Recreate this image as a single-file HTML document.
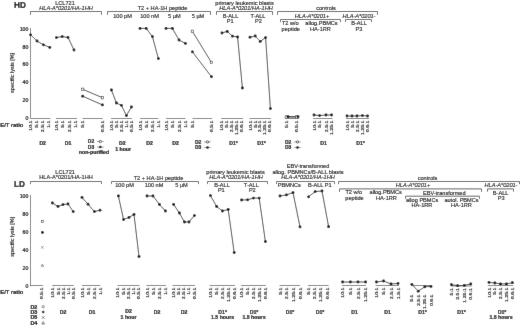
<!DOCTYPE html>
<html><head><meta charset="utf-8"><title>Specific lysis HD / LD</title>
<style>
html,body{margin:0;padding:0;background:#fff;}
body{width:520px;height:325px;overflow:hidden;}
svg{display:block;font-family:"Liberation Sans", sans-serif;}
#wrap{width:520px;height:325px;}
svg text{fill:#000;stroke:#000;stroke-width:0.12px;}
svg text[font-weight=bold]{stroke-width:0.2px;}
svg text.tk{fill:#000;stroke:#000;stroke-width:0.2px;}
</style></head><body>
<div id="wrap"><svg width="520" height="325" viewBox="0 0 520 325">
<defs><filter id="bl" x="0" y="0" width="100%" height="100%"><feConvolveMatrix order="3" kernelMatrix="0.0075 0.055 0.0075 0.055 0.75 0.055 0.0075 0.055 0.0075" preserveAlpha="true" edgeMode="duplicate"/></filter></defs>
<rect width="520" height="325" fill="#fff"/>
<g filter="url(#bl)">
<rect width="520" height="325" fill="#fff"/>
<text x="14.00" y="7.90" font-size="8.2" text-anchor="start" font-weight="bold" font-style="normal" >HD</text>
<line x1="30.50" y1="28.00" x2="30.50" y2="118.70" stroke="#808080" stroke-width="1.0"/>
<text x="28.30" y="120.05" font-size="5.2" text-anchor="end" font-weight="normal" font-style="normal" class="tk">0</text>
<text x="28.30" y="102.19" font-size="5.2" text-anchor="end" font-weight="normal" font-style="normal" class="tk">20</text>
<text x="28.30" y="84.33" font-size="5.2" text-anchor="end" font-weight="normal" font-style="normal" class="tk">40</text>
<text x="28.30" y="66.47" font-size="5.2" text-anchor="end" font-weight="normal" font-style="normal" class="tk">60</text>
<text x="28.30" y="48.61" font-size="5.2" text-anchor="end" font-weight="normal" font-style="normal" class="tk">80</text>
<text x="28.30" y="30.75" font-size="5.2" text-anchor="end" font-weight="normal" font-style="normal" class="tk">100</text>
<text x="13.80" y="72.90" font-size="5.5" text-anchor="middle" font-weight="normal" font-style="normal" transform="rotate(-90 13.80 72.90)">specific lysis [%]</text>
<text x="0.30" y="127.10" font-size="5.75" text-anchor="start" font-weight="bold" font-style="normal" >E/T ratio</text>
<text x="65.00" y="4.60" font-size="5.6" text-anchor="middle" font-weight="normal" font-style="normal" >LCL721</text>
<text x="66.00" y="9.60" font-size="5.6" text-anchor="middle" font-weight="normal" font-style="italic" >HLA-A*0201/HA-1HH</text>
<polyline points="30.50,14.90 30.50,11.50 101.50,11.50 101.50,14.90" fill="none" stroke="#606060" stroke-width="1.0"/>
<text x="162.50" y="10.00" font-size="5.6" text-anchor="middle" font-weight="normal" font-style="normal" >T2 + HA-1H peptide</text>
<polyline points="107.50,14.90 107.50,11.50 210.50,11.50 210.50,14.90" fill="none" stroke="#606060" stroke-width="1.0"/>
<text x="122.50" y="17.60" font-size="5.6" text-anchor="middle" font-weight="normal" font-style="normal" >100 pM</text>
<text x="149.50" y="17.60" font-size="5.6" text-anchor="middle" font-weight="normal" font-style="normal" >100 nM</text>
<text x="174.30" y="17.60" font-size="5.6" text-anchor="middle" font-weight="normal" font-style="normal" >5 µM</text>
<text x="198.00" y="17.60" font-size="5.6" text-anchor="middle" font-weight="normal" font-style="normal" >5 µM</text>
<text x="244.50" y="5.00" font-size="5.6" text-anchor="middle" font-weight="normal" font-style="normal" >primary leukemic blasts</text>
<text x="246.00" y="9.60" font-size="5.6" text-anchor="middle" font-weight="normal" font-style="italic" >HLA-A*0201/HA-1HH</text>
<polyline points="216.50,14.90 216.50,11.50 272.50,11.50 272.50,14.90" fill="none" stroke="#606060" stroke-width="1.0"/>
<text x="230.50" y="17.60" font-size="5.6" text-anchor="middle" font-weight="normal" font-style="normal" >B-ALL</text>
<text x="230.20" y="22.60" font-size="5.6" text-anchor="middle" font-weight="normal" font-style="normal" >P1</text>
<text x="258.00" y="17.60" font-size="5.6" text-anchor="middle" font-weight="normal" font-style="normal" >T-ALL</text>
<text x="258.50" y="22.60" font-size="5.6" text-anchor="middle" font-weight="normal" font-style="normal" >P2</text>
<text x="326.00" y="10.00" font-size="5.6" text-anchor="middle" font-weight="normal" font-style="normal" >controls</text>
<polyline points="277.50,14.90 277.50,11.50 377.50,11.50 377.50,14.90" fill="none" stroke="#606060" stroke-width="1.0"/>
<text x="312.00" y="17.60" font-size="5.6" text-anchor="middle" font-weight="normal" font-style="italic" >HLA-A*0201+</text>
<text x="359.00" y="17.60" font-size="5.6" text-anchor="middle" font-weight="normal" font-style="italic" >HLA-A*0201-</text>
<polyline points="280.50,22.10 280.50,19.50 340.50,19.50 340.50,22.10" fill="none" stroke="#606060" stroke-width="1.0"/>
<polyline points="345.50,22.10 345.50,19.50 371.50,19.50 371.50,22.10" fill="none" stroke="#606060" stroke-width="1.0"/>
<text x="290.30" y="25.00" font-size="5.6" text-anchor="middle" font-weight="normal" font-style="normal" >T2 w/o</text>
<text x="290.80" y="30.80" font-size="5.6" text-anchor="middle" font-weight="normal" font-style="normal" >peptide</text>
<text x="321.50" y="25.00" font-size="5.6" text-anchor="middle" font-weight="normal" font-style="normal" >allog.PBMCs</text>
<text x="320.50" y="30.80" font-size="5.6" text-anchor="middle" font-weight="normal" font-style="normal" >HA-1RR</text>
<text x="359.00" y="25.00" font-size="5.6" text-anchor="middle" font-weight="normal" font-style="normal" >B-ALL</text>
<text x="359.00" y="30.80" font-size="5.6" text-anchor="middle" font-weight="normal" font-style="normal" >P3</text>
<line x1="30.50" y1="118.50" x2="50.40" y2="118.50" stroke="#808080" stroke-width="1.0"/>
<text class="tk" x="0" y="0" font-size="5.2" text-anchor="end" transform="translate(31.75 120.60) rotate(-90) scale(1 0.82)">10:1</text>
<text class="tk" x="0" y="0" font-size="5.2" text-anchor="end" transform="translate(37.95 120.60) rotate(-90) scale(1 0.82)">5:1</text>
<text class="tk" x="0" y="0" font-size="5.2" text-anchor="end" transform="translate(44.15 120.60) rotate(-90) scale(1 0.82)">2.5:1</text>
<text class="tk" x="0" y="0" font-size="5.2" text-anchor="end" transform="translate(49.95 120.60) rotate(-90) scale(1 0.82)">1:1</text>
<polyline points="30.60,34.80 37.00,41.00 43.40,44.80 49.80,47.40" fill="none" stroke="#111" stroke-width="0.75"/>
<circle cx="30.60" cy="34.80" r="1.4" fill="#000"/>
<circle cx="37.00" cy="41.00" r="1.4" fill="#000"/>
<circle cx="43.40" cy="44.80" r="1.4" fill="#000"/>
<circle cx="49.80" cy="47.40" r="1.4" fill="#000"/>
<line x1="56.00" y1="118.50" x2="77.00" y2="118.50" stroke="#808080" stroke-width="1.0"/>
<text class="tk" x="0" y="0" font-size="5.2" text-anchor="end" transform="translate(57.65 120.60) rotate(-90) scale(1 0.82)">10:1</text>
<text class="tk" x="0" y="0" font-size="5.2" text-anchor="end" transform="translate(64.15 120.60) rotate(-90) scale(1 0.82)">5:1</text>
<text class="tk" x="0" y="0" font-size="5.2" text-anchor="end" transform="translate(70.55 120.60) rotate(-90) scale(1 0.82)">2.5:1</text>
<text class="tk" x="0" y="0" font-size="5.2" text-anchor="end" transform="translate(76.75 120.60) rotate(-90) scale(1 0.82)">1:1</text>
<polyline points="56.40,37.60 62.20,36.60 68.00,37.40 74.00,50.00" fill="none" stroke="#111" stroke-width="0.75"/>
<circle cx="56.40" cy="37.60" r="1.4" fill="#000"/>
<circle cx="62.20" cy="36.60" r="1.4" fill="#000"/>
<circle cx="68.00" cy="37.40" r="1.4" fill="#000"/>
<circle cx="74.00" cy="50.00" r="1.4" fill="#000"/>
<line x1="82.50" y1="118.50" x2="102.80" y2="118.50" stroke="#808080" stroke-width="1.0"/>
<text class="tk" x="0" y="0" font-size="5.2" text-anchor="end" transform="translate(84.25 120.60) rotate(-90) scale(1 0.82)">5:1</text>
<text class="tk" x="0" y="0" font-size="5.2" text-anchor="end" transform="translate(103.95 120.60) rotate(-90) scale(1 0.82)">0.5:1</text>
<polyline points="82.70,89.30 102.40,97.70" fill="none" stroke="#111" stroke-width="0.75"/>
<rect x="81.50" y="88.10" width="2.4" height="2.4" fill="#fff" stroke="#222" stroke-width="0.55"/>
<rect x="101.20" y="96.50" width="2.4" height="2.4" fill="#fff" stroke="#222" stroke-width="0.55"/>
<polyline points="82.70,96.20 102.40,104.90" fill="none" stroke="#111" stroke-width="0.75"/>
<circle cx="82.70" cy="96.20" r="1.4" fill="#000"/>
<circle cx="102.40" cy="104.90" r="1.4" fill="#000"/>
<line x1="111.00" y1="118.50" x2="132.00" y2="118.50" stroke="#808080" stroke-width="1.0"/>
<text class="tk" x="0" y="0" font-size="5.2" text-anchor="end" transform="translate(112.95 120.60) rotate(-90) scale(1 0.82)">10:1</text>
<text class="tk" x="0" y="0" font-size="5.2" text-anchor="end" transform="translate(117.95 120.60) rotate(-90) scale(1 0.82)">5:1</text>
<text class="tk" x="0" y="0" font-size="5.2" text-anchor="end" transform="translate(122.95 120.60) rotate(-90) scale(1 0.82)">2.5:1</text>
<text class="tk" x="0" y="0" font-size="5.2" text-anchor="end" transform="translate(127.95 120.60) rotate(-90) scale(1 0.82)">1:1</text>
<text class="tk" x="0" y="0" font-size="5.2" text-anchor="end" transform="translate(132.95 120.60) rotate(-90) scale(1 0.82)">0.5:1</text>
<polyline points="111.40,90.00 116.40,103.00 121.40,105.30 126.40,115.60 131.40,107.00" fill="none" stroke="#111" stroke-width="0.75"/>
<circle cx="111.40" cy="90.00" r="1.4" fill="#000"/>
<circle cx="116.40" cy="103.00" r="1.4" fill="#000"/>
<circle cx="121.40" cy="105.30" r="1.4" fill="#000"/>
<circle cx="126.40" cy="115.60" r="1.4" fill="#000"/>
<circle cx="131.40" cy="107.00" r="1.4" fill="#000"/>
<line x1="140.00" y1="118.50" x2="158.40" y2="118.50" stroke="#808080" stroke-width="1.0"/>
<text class="tk" x="0" y="0" font-size="5.2" text-anchor="end" transform="translate(141.55 120.60) rotate(-90) scale(1 0.82)">10:1</text>
<text class="tk" x="0" y="0" font-size="5.2" text-anchor="end" transform="translate(147.75 120.60) rotate(-90) scale(1 0.82)">5:1</text>
<text class="tk" x="0" y="0" font-size="5.2" text-anchor="end" transform="translate(153.95 120.60) rotate(-90) scale(1 0.82)">2.5:1</text>
<text class="tk" x="0" y="0" font-size="5.2" text-anchor="end" transform="translate(159.95 120.60) rotate(-90) scale(1 0.82)">1:1</text>
<polyline points="140.00,28.40 146.20,28.40 152.40,36.60 158.40,58.60" fill="none" stroke="#111" stroke-width="0.75"/>
<circle cx="140.00" cy="28.40" r="1.4" fill="#000"/>
<circle cx="146.20" cy="28.40" r="1.4" fill="#000"/>
<circle cx="152.40" cy="36.60" r="1.4" fill="#000"/>
<circle cx="158.40" cy="58.60" r="1.4" fill="#000"/>
<line x1="166.00" y1="118.50" x2="185.40" y2="118.50" stroke="#808080" stroke-width="1.0"/>
<text class="tk" x="0" y="0" font-size="5.2" text-anchor="end" transform="translate(167.55 120.60) rotate(-90) scale(1 0.82)">10:1</text>
<text class="tk" x="0" y="0" font-size="5.2" text-anchor="end" transform="translate(173.95 120.60) rotate(-90) scale(1 0.82)">5:1</text>
<text class="tk" x="0" y="0" font-size="5.2" text-anchor="end" transform="translate(180.55 120.60) rotate(-90) scale(1 0.82)">2.5:1</text>
<text class="tk" x="0" y="0" font-size="5.2" text-anchor="end" transform="translate(186.95 120.60) rotate(-90) scale(1 0.82)">1:1</text>
<polyline points="166.00,28.40 172.40,28.40 179.00,40.00 185.40,43.40" fill="none" stroke="#111" stroke-width="0.75"/>
<circle cx="166.00" cy="28.40" r="1.4" fill="#000"/>
<circle cx="172.40" cy="28.40" r="1.4" fill="#000"/>
<circle cx="179.00" cy="40.00" r="1.4" fill="#000"/>
<circle cx="185.40" cy="43.40" r="1.4" fill="#000"/>
<line x1="192.50" y1="118.50" x2="212.20" y2="118.50" stroke="#808080" stroke-width="1.0"/>
<text class="tk" x="0" y="0" font-size="5.2" text-anchor="end" transform="translate(194.35 120.60) rotate(-90) scale(1 0.82)">5:1</text>
<text class="tk" x="0" y="0" font-size="5.2" text-anchor="end" transform="translate(213.15 120.60) rotate(-90) scale(1 0.82)">0.5:1</text>
<polyline points="192.40,31.30 211.40,62.40" fill="none" stroke="#111" stroke-width="0.75"/>
<rect x="191.20" y="30.10" width="2.4" height="2.4" fill="#fff" stroke="#222" stroke-width="0.55"/>
<rect x="210.20" y="61.20" width="2.4" height="2.4" fill="#fff" stroke="#222" stroke-width="0.55"/>
<polyline points="192.40,51.80 211.40,76.70" fill="none" stroke="#111" stroke-width="0.75"/>
<circle cx="192.40" cy="51.80" r="1.4" fill="#000"/>
<circle cx="211.40" cy="76.70" r="1.4" fill="#000"/>
<line x1="221.20" y1="118.50" x2="243.00" y2="118.50" stroke="#808080" stroke-width="1.0"/>
<text class="tk" x="0" y="0" font-size="5.2" text-anchor="end" transform="translate(223.45 120.60) rotate(-90) scale(1 0.82)">10:1</text>
<text class="tk" x="0" y="0" font-size="5.2" text-anchor="end" transform="translate(228.25 120.60) rotate(-90) scale(1 0.82)">5:1</text>
<text class="tk" x="0" y="0" font-size="5.2" text-anchor="end" transform="translate(233.05 120.60) rotate(-90) scale(1 0.82)">2.5:1</text>
<text class="tk" x="0" y="0" font-size="5.2" text-anchor="end" transform="translate(237.95 120.60) rotate(-90) scale(1 0.82)">1.25:1</text>
<text class="tk" x="0" y="0" font-size="5.2" text-anchor="end" transform="translate(242.85 120.60) rotate(-90) scale(1 0.82)">0.6:1</text>
<polyline points="222.00,33.00 227.20,31.40 232.40,36.20 237.60,37.00 242.40,88.00" fill="none" stroke="#111" stroke-width="0.75"/>
<circle cx="222.00" cy="33.00" r="1.4" fill="#000"/>
<circle cx="227.20" cy="31.40" r="1.4" fill="#000"/>
<circle cx="232.40" cy="36.20" r="1.4" fill="#000"/>
<circle cx="237.60" cy="37.00" r="1.4" fill="#000"/>
<circle cx="242.40" cy="88.00" r="1.4" fill="#000"/>
<line x1="249.50" y1="118.50" x2="271.00" y2="118.50" stroke="#808080" stroke-width="1.0"/>
<text class="tk" x="0" y="0" font-size="5.2" text-anchor="end" transform="translate(251.75 120.60) rotate(-90) scale(1 0.82)">10:1</text>
<text class="tk" x="0" y="0" font-size="5.2" text-anchor="end" transform="translate(256.65 120.60) rotate(-90) scale(1 0.82)">5:1</text>
<text class="tk" x="0" y="0" font-size="5.2" text-anchor="end" transform="translate(261.45 120.60) rotate(-90) scale(1 0.82)">2.5:1</text>
<text class="tk" x="0" y="0" font-size="5.2" text-anchor="end" transform="translate(266.25 120.60) rotate(-90) scale(1 0.82)">1.25:1</text>
<text class="tk" x="0" y="0" font-size="5.2" text-anchor="end" transform="translate(271.15 120.60) rotate(-90) scale(1 0.82)">0.6:1</text>
<polyline points="250.00,37.20 255.20,36.00 260.20,41.40 265.60,37.60 270.40,108.60" fill="none" stroke="#111" stroke-width="0.75"/>
<circle cx="250.00" cy="37.20" r="1.4" fill="#000"/>
<circle cx="255.20" cy="36.00" r="1.4" fill="#000"/>
<circle cx="260.20" cy="41.40" r="1.4" fill="#000"/>
<circle cx="265.60" cy="37.60" r="1.4" fill="#000"/>
<circle cx="270.40" cy="108.60" r="1.4" fill="#000"/>
<line x1="285.20" y1="118.50" x2="299.20" y2="118.50" stroke="#808080" stroke-width="1.0"/>
<text class="tk" x="0" y="0" font-size="5.2" text-anchor="end" transform="translate(288.05 120.70) rotate(-90) scale(1 0.82)">5:1</text>
<text class="tk" x="0" y="0" font-size="5.2" text-anchor="end" transform="translate(298.35 120.70) rotate(-90) scale(1 0.82)">0.5:1</text>
<polyline points="286.30,117.00 296.50,117.00" fill="none" stroke="#111" stroke-width="0.75"/>
<polyline points="288.00,116.60 298.00,116.60" fill="none" stroke="#111" stroke-width="0.75"/>
<rect x="285.10" y="115.80" width="2.4" height="2.4" fill="#fff" stroke="#222" stroke-width="0.55"/>
<rect x="295.30" y="115.80" width="2.4" height="2.4" fill="#fff" stroke="#222" stroke-width="0.55"/>
<circle cx="288.00" cy="116.60" r="1.4" fill="#000"/>
<circle cx="298.00" cy="116.60" r="1.4" fill="#000"/>
<line x1="313.00" y1="118.50" x2="332.40" y2="118.50" stroke="#808080" stroke-width="1.0"/>
<text class="tk" x="0" y="0" font-size="5.2" text-anchor="end" transform="translate(315.55 120.60) rotate(-90) scale(1 0.82)">10:1</text>
<text class="tk" x="0" y="0" font-size="5.2" text-anchor="end" transform="translate(321.15 120.60) rotate(-90) scale(1 0.82)">5:1</text>
<text class="tk" x="0" y="0" font-size="5.2" text-anchor="end" transform="translate(327.55 120.60) rotate(-90) scale(1 0.82)">2.5:1</text>
<text class="tk" x="0" y="0" font-size="5.2" text-anchor="end" transform="translate(333.15 120.60) rotate(-90) scale(1 0.82)">1.25:1</text>
<polyline points="314.00,115.00 319.60,115.60 326.00,115.00 331.60,115.00" fill="none" stroke="#111" stroke-width="0.75"/>
<circle cx="314.00" cy="115.00" r="1.4" fill="#000"/>
<circle cx="319.60" cy="115.60" r="1.4" fill="#000"/>
<circle cx="326.00" cy="115.00" r="1.4" fill="#000"/>
<circle cx="331.60" cy="115.00" r="1.4" fill="#000"/>
<line x1="346.00" y1="118.50" x2="369.00" y2="118.50" stroke="#808080" stroke-width="1.0"/>
<text class="tk" x="0" y="0" font-size="5.2" text-anchor="end" transform="translate(348.55 120.60) rotate(-90) scale(1 0.82)">10:1</text>
<text class="tk" x="0" y="0" font-size="5.2" text-anchor="end" transform="translate(353.55 120.60) rotate(-90) scale(1 0.82)">5:1</text>
<text class="tk" x="0" y="0" font-size="5.2" text-anchor="end" transform="translate(358.55 120.60) rotate(-90) scale(1 0.82)">2.5:1</text>
<text class="tk" x="0" y="0" font-size="5.2" text-anchor="end" transform="translate(363.95 120.60) rotate(-90) scale(1 0.82)">1.25:1</text>
<text class="tk" x="0" y="0" font-size="5.2" text-anchor="end" transform="translate(369.15 120.60) rotate(-90) scale(1 0.82)">0.6:1</text>
<polyline points="347.00,116.00 352.00,116.00 357.00,116.00 362.40,115.60 367.60,116.00" fill="none" stroke="#111" stroke-width="0.75"/>
<circle cx="347.00" cy="116.00" r="1.4" fill="#000"/>
<circle cx="352.00" cy="116.00" r="1.4" fill="#000"/>
<circle cx="357.00" cy="116.00" r="1.4" fill="#000"/>
<circle cx="362.40" cy="115.60" r="1.4" fill="#000"/>
<circle cx="367.60" cy="116.00" r="1.4" fill="#000"/>
<text x="42.70" y="145.10" font-size="5.2" text-anchor="middle" font-weight="bold" font-style="normal" >D2</text>
<text x="68.00" y="145.10" font-size="5.2" text-anchor="middle" font-weight="bold" font-style="normal" >D1</text>
<text x="87.80" y="143.20" font-size="5.0" text-anchor="start" font-weight="bold" font-style="normal" >D2</text>
<text x="87.80" y="148.80" font-size="5.0" text-anchor="start" font-weight="bold" font-style="normal" >D3</text>
<line x1="97.00" y1="141.50" x2="103.60" y2="141.50" stroke="#333" stroke-width="0.5"/>
<circle cx="100.30" cy="141.50" r="1.15" fill="#fff" stroke="#111" stroke-width="0.7"/>
<line x1="97.00" y1="147.10" x2="103.60" y2="147.10" stroke="#333" stroke-width="0.5"/>
<circle cx="100.30" cy="147.10" r="1.25" fill="#000"/>
<text x="94.00" y="153.60" font-size="5.2" text-anchor="middle" font-weight="bold" font-style="normal" >non-purified</text>
<text x="122.40" y="145.10" font-size="5.2" text-anchor="middle" font-weight="bold" font-style="normal" >D2</text>
<text x="123.10" y="151.00" font-size="5.2" text-anchor="middle" font-weight="bold" font-style="normal" >1 hour</text>
<text x="149.60" y="145.10" font-size="5.2" text-anchor="middle" font-weight="bold" font-style="normal" >D2</text>
<text x="175.50" y="145.10" font-size="5.2" text-anchor="middle" font-weight="bold" font-style="normal" >D2</text>
<text x="195.00" y="143.60" font-size="5.0" text-anchor="start" font-weight="bold" font-style="normal" >D2</text>
<text x="195.00" y="149.20" font-size="5.0" text-anchor="start" font-weight="bold" font-style="normal" >D3</text>
<line x1="204.20" y1="141.90" x2="210.80" y2="141.90" stroke="#333" stroke-width="0.5"/>
<circle cx="207.50" cy="141.90" r="1.15" fill="#fff" stroke="#111" stroke-width="0.7"/>
<line x1="204.20" y1="147.50" x2="210.80" y2="147.50" stroke="#333" stroke-width="0.5"/>
<circle cx="207.50" cy="147.50" r="1.25" fill="#000"/>
<text x="233.50" y="145.10" font-size="5.2" text-anchor="middle" font-weight="bold" font-style="normal" >D1*</text>
<text x="261.50" y="145.10" font-size="5.2" text-anchor="middle" font-weight="bold" font-style="normal" >D1*</text>
<text x="285.00" y="143.60" font-size="5.0" text-anchor="start" font-weight="bold" font-style="normal" >D2</text>
<text x="285.00" y="149.20" font-size="5.0" text-anchor="start" font-weight="bold" font-style="normal" >D3</text>
<line x1="294.20" y1="141.90" x2="300.80" y2="141.90" stroke="#333" stroke-width="0.5"/>
<circle cx="297.50" cy="141.90" r="1.15" fill="#fff" stroke="#111" stroke-width="0.7"/>
<line x1="294.20" y1="147.50" x2="300.80" y2="147.50" stroke="#333" stroke-width="0.5"/>
<circle cx="297.50" cy="147.50" r="1.25" fill="#000"/>
<text x="323.50" y="145.10" font-size="5.2" text-anchor="middle" font-weight="bold" font-style="normal" >D1</text>
<text x="360.50" y="145.10" font-size="5.2" text-anchor="middle" font-weight="bold" font-style="normal" >D1*</text>
<text x="14.00" y="187.30" font-size="8.2" text-anchor="start" font-weight="bold" font-style="normal" >LD</text>
<line x1="30.50" y1="195.00" x2="30.50" y2="286.40" stroke="#808080" stroke-width="1.0"/>
<text x="28.30" y="287.75" font-size="5.2" text-anchor="end" font-weight="normal" font-style="normal" class="tk">0</text>
<text x="28.30" y="269.75" font-size="5.2" text-anchor="end" font-weight="normal" font-style="normal" class="tk">20</text>
<text x="28.30" y="251.75" font-size="5.2" text-anchor="end" font-weight="normal" font-style="normal" class="tk">40</text>
<text x="28.30" y="233.75" font-size="5.2" text-anchor="end" font-weight="normal" font-style="normal" class="tk">60</text>
<text x="28.30" y="215.75" font-size="5.2" text-anchor="end" font-weight="normal" font-style="normal" class="tk">80</text>
<text x="28.30" y="197.75" font-size="5.2" text-anchor="end" font-weight="normal" font-style="normal" class="tk">100</text>
<text x="13.80" y="236.80" font-size="5.5" text-anchor="middle" font-weight="normal" font-style="normal" transform="rotate(-90 13.80 236.80)">specific lysis [%]</text>
<text x="0.30" y="293.90" font-size="5.75" text-anchor="start" font-weight="bold" font-style="normal" >E/T ratio</text>
<text x="65.10" y="173.80" font-size="5.6" text-anchor="middle" font-weight="normal" font-style="normal" >LCL721</text>
<text x="66.00" y="179.40" font-size="5.6" text-anchor="middle" font-weight="normal" font-style="normal" >HLA-A*0201/HA-1HH</text>
<polyline points="30.50,184.10 30.50,181.50 101.50,181.50 101.50,184.10" fill="none" stroke="#606060" stroke-width="1.0"/>
<text x="158.50" y="179.60" font-size="5.6" text-anchor="middle" font-weight="normal" font-style="normal" >T2 + HA-1H peptide</text>
<polyline points="111.50,184.10 111.50,181.50 198.50,181.50 198.50,184.10" fill="none" stroke="#606060" stroke-width="1.0"/>
<text x="124.50" y="187.00" font-size="5.6" text-anchor="middle" font-weight="normal" font-style="normal" >100 pM</text>
<text x="154.00" y="187.00" font-size="5.6" text-anchor="middle" font-weight="normal" font-style="normal" >100 nM</text>
<text x="181.50" y="187.00" font-size="5.6" text-anchor="middle" font-weight="normal" font-style="normal" >5 µM</text>
<text x="235.50" y="173.60" font-size="5.6" text-anchor="middle" font-weight="normal" font-style="normal" >primary leukemic blasts</text>
<text x="236.00" y="179.00" font-size="5.6" text-anchor="middle" font-weight="normal" font-style="italic" >HLA-A*0201/HA-1HH</text>
<polyline points="207.50,184.10 207.50,181.50 267.50,181.50 267.50,184.10" fill="none" stroke="#606060" stroke-width="1.0"/>
<text x="222.00" y="187.00" font-size="5.6" text-anchor="middle" font-weight="normal" font-style="normal" >B-ALL</text>
<text x="221.30" y="192.40" font-size="5.6" text-anchor="middle" font-weight="normal" font-style="normal" >P1</text>
<text x="251.30" y="187.00" font-size="5.6" text-anchor="middle" font-weight="normal" font-style="normal" >T-ALL</text>
<text x="252.30" y="192.40" font-size="5.6" text-anchor="middle" font-weight="normal" font-style="normal" >P2</text>
<text x="308.00" y="168.00" font-size="5.6" text-anchor="middle" font-weight="normal" font-style="normal" >EBV-transformed</text>
<text x="308.00" y="173.60" font-size="5.6" text-anchor="middle" font-weight="normal" font-style="normal" >allog. PBMNCs/B-ALL blasts</text>
<text x="308.00" y="178.80" font-size="5.6" text-anchor="middle" font-weight="normal" font-style="italic" >HLA-A*0201/HA-1HH</text>
<polyline points="276.50,184.10 276.50,181.50 334.50,181.50 334.50,184.10" fill="none" stroke="#606060" stroke-width="1.0"/>
<text x="289.30" y="186.60" font-size="5.6" text-anchor="middle" font-weight="normal" font-style="normal" >PBMNCs</text>
<text x="319.80" y="186.60" font-size="5.6" text-anchor="middle" font-weight="normal" font-style="normal" >B-ALL P1</text>
<text x="427.50" y="179.80" font-size="5.6" text-anchor="middle" font-weight="normal" font-style="normal" >controls</text>
<polyline points="338.50,184.10 338.50,181.50 519.50,181.50 519.50,184.10" fill="none" stroke="#606060" stroke-width="1.0"/>
<text x="413.00" y="186.80" font-size="5.6" text-anchor="middle" font-weight="normal" font-style="italic" >HLA-A*0201+</text>
<polyline points="339.50,191.90 339.50,188.90 481.50,188.90 481.50,191.90" fill="none" stroke="#606060" stroke-width="1.0"/>
<text x="501.00" y="187.40" font-size="5.6" text-anchor="middle" font-weight="normal" font-style="italic" >HLA-A*0201-</text>
<polyline points="487.50,191.70 487.50,188.90 513.50,188.90 513.50,191.70" fill="none" stroke="#606060" stroke-width="1.0"/>
<text x="353.80" y="193.80" font-size="5.6" text-anchor="middle" font-weight="normal" font-style="normal" >T2 w/o</text>
<text x="354.50" y="199.90" font-size="5.6" text-anchor="middle" font-weight="normal" font-style="normal" >peptide</text>
<text x="385.70" y="193.80" font-size="5.6" text-anchor="middle" font-weight="normal" font-style="normal" >allog.PBMCs</text>
<text x="386.50" y="199.90" font-size="5.6" text-anchor="middle" font-weight="normal" font-style="normal" >HA-1RR</text>
<text x="444.30" y="194.50" font-size="5.6" text-anchor="middle" font-weight="normal" font-style="normal" >EBV-transformed</text>
<polyline points="405.50,198.80 405.50,196.20 479.50,196.20 479.50,198.80" fill="none" stroke="#606060" stroke-width="1.0"/>
<text x="422.20" y="202.40" font-size="5.6" text-anchor="middle" font-weight="normal" font-style="normal" >allog PBMCs</text>
<text x="422.00" y="207.20" font-size="5.6" text-anchor="middle" font-weight="normal" font-style="normal" >HA-1RR</text>
<text x="461.50" y="202.40" font-size="5.6" text-anchor="middle" font-weight="normal" font-style="normal" >autol. PBMCs</text>
<text x="461.50" y="207.20" font-size="5.6" text-anchor="middle" font-weight="normal" font-style="normal" >HA-1RR</text>
<text x="500.60" y="194.60" font-size="5.6" text-anchor="middle" font-weight="normal" font-style="normal" >B-ALL</text>
<text x="501.20" y="199.80" font-size="5.6" text-anchor="middle" font-weight="normal" font-style="normal" >P3</text>
<line x1="30.50" y1="285.50" x2="43.00" y2="285.50" stroke="#808080" stroke-width="1.0"/>
<text class="tk" x="0" y="0" font-size="5.2" text-anchor="end" transform="translate(43.35 287.70) rotate(-90) scale(1 0.82)">0.5:1</text>
<rect x="41.30" y="220.30" width="2.2" height="2.2" fill="#fff" stroke="#222" stroke-width="0.55"/>
<circle cx="42.40" cy="232.40" r="1.4" fill="#000"/>
<path d="M41.2,246.2 L43.6,248.6 M43.6,246.2 L41.2,248.6" stroke="#333" stroke-width="0.5"/>
<path d="M42.4,264.0 L43.7,266.3 L41.1,266.3 Z" fill="#fff" stroke="#333" stroke-width="0.5"/>
<line x1="52.20" y1="285.50" x2="73.80" y2="285.50" stroke="#808080" stroke-width="1.0"/>
<text class="tk" x="0" y="0" font-size="5.2" text-anchor="end" transform="translate(53.95 287.60) rotate(-90) scale(1 0.82)">10:1</text>
<text class="tk" x="0" y="0" font-size="5.2" text-anchor="end" transform="translate(59.55 287.60) rotate(-90) scale(1 0.82)">5:1</text>
<text class="tk" x="0" y="0" font-size="5.2" text-anchor="end" transform="translate(64.55 287.60) rotate(-90) scale(1 0.82)">2.5:1</text>
<text class="tk" x="0" y="0" font-size="5.2" text-anchor="end" transform="translate(69.55 287.60) rotate(-90) scale(1 0.82)">1:1</text>
<text class="tk" x="0" y="0" font-size="5.2" text-anchor="end" transform="translate(74.75 287.60) rotate(-90) scale(1 0.82)">0.5:1</text>
<polyline points="52.40,203.00 58.00,206.40 63.00,204.60 68.00,204.00 73.20,211.60" fill="none" stroke="#111" stroke-width="0.75"/>
<circle cx="52.40" cy="203.00" r="1.4" fill="#000"/>
<circle cx="58.00" cy="206.40" r="1.4" fill="#000"/>
<circle cx="63.00" cy="204.60" r="1.4" fill="#000"/>
<circle cx="68.00" cy="204.00" r="1.4" fill="#000"/>
<circle cx="73.20" cy="211.60" r="1.4" fill="#000"/>
<line x1="82.00" y1="285.50" x2="100.30" y2="285.50" stroke="#808080" stroke-width="1.0"/>
<text class="tk" x="0" y="0" font-size="5.2" text-anchor="end" transform="translate(83.55 287.60) rotate(-90) scale(1 0.82)">10:1</text>
<text class="tk" x="0" y="0" font-size="5.2" text-anchor="end" transform="translate(89.55 287.60) rotate(-90) scale(1 0.82)">5:1</text>
<text class="tk" x="0" y="0" font-size="5.2" text-anchor="end" transform="translate(95.95 287.60) rotate(-90) scale(1 0.82)">2.5:1</text>
<text class="tk" x="0" y="0" font-size="5.2" text-anchor="end" transform="translate(101.55 287.60) rotate(-90) scale(1 0.82)">1:1</text>
<polyline points="82.00,197.40 88.00,204.20 94.40,211.60 100.00,210.20" fill="none" stroke="#111" stroke-width="0.75"/>
<circle cx="82.00" cy="197.40" r="1.4" fill="#000"/>
<circle cx="88.00" cy="204.20" r="1.4" fill="#000"/>
<circle cx="94.40" cy="211.60" r="1.4" fill="#000"/>
<circle cx="100.00" cy="210.20" r="1.4" fill="#000"/>
<line x1="117.60" y1="285.50" x2="139.60" y2="285.50" stroke="#808080" stroke-width="1.0"/>
<text class="tk" x="0" y="0" font-size="5.2" text-anchor="end" transform="translate(119.35 287.60) rotate(-90) scale(1 0.82)">10:1</text>
<text class="tk" x="0" y="0" font-size="5.2" text-anchor="end" transform="translate(124.55 287.60) rotate(-90) scale(1 0.82)">5:1</text>
<text class="tk" x="0" y="0" font-size="5.2" text-anchor="end" transform="translate(129.75 287.60) rotate(-90) scale(1 0.82)">2.5:1</text>
<text class="tk" x="0" y="0" font-size="5.2" text-anchor="end" transform="translate(134.95 287.60) rotate(-90) scale(1 0.82)">1:1</text>
<text class="tk" x="0" y="0" font-size="5.2" text-anchor="end" transform="translate(140.15 287.60) rotate(-90) scale(1 0.82)">0.5:1</text>
<polyline points="118.40,196.00 123.60,219.60 129.00,217.40 134.00,214.40 139.00,256.60" fill="none" stroke="#111" stroke-width="0.75"/>
<circle cx="118.40" cy="196.00" r="1.4" fill="#000"/>
<circle cx="123.60" cy="219.60" r="1.4" fill="#000"/>
<circle cx="129.00" cy="217.40" r="1.4" fill="#000"/>
<circle cx="134.00" cy="214.40" r="1.4" fill="#000"/>
<circle cx="139.00" cy="256.60" r="1.4" fill="#000"/>
<line x1="146.40" y1="285.50" x2="166.00" y2="285.50" stroke="#808080" stroke-width="1.0"/>
<text class="tk" x="0" y="0" font-size="5.2" text-anchor="end" transform="translate(148.55 287.60) rotate(-90) scale(1 0.82)">10:1</text>
<text class="tk" x="0" y="0" font-size="5.2" text-anchor="end" transform="translate(154.55 287.60) rotate(-90) scale(1 0.82)">5:1</text>
<text class="tk" x="0" y="0" font-size="5.2" text-anchor="end" transform="translate(160.95 287.60) rotate(-90) scale(1 0.82)">2.5:1</text>
<text class="tk" x="0" y="0" font-size="5.2" text-anchor="end" transform="translate(166.95 287.60) rotate(-90) scale(1 0.82)">1:1</text>
<polyline points="147.00,196.00 153.00,196.00 159.40,204.40 165.40,211.00" fill="none" stroke="#111" stroke-width="0.75"/>
<circle cx="147.00" cy="196.00" r="1.4" fill="#000"/>
<circle cx="153.00" cy="196.00" r="1.4" fill="#000"/>
<circle cx="159.40" cy="204.40" r="1.4" fill="#000"/>
<circle cx="165.40" cy="211.00" r="1.4" fill="#000"/>
<line x1="172.40" y1="285.50" x2="195.00" y2="285.50" stroke="#808080" stroke-width="1.0"/>
<text class="tk" x="0" y="0" font-size="5.2" text-anchor="end" transform="translate(174.75 287.60) rotate(-90) scale(1 0.82)">10:1</text>
<text class="tk" x="0" y="0" font-size="5.2" text-anchor="end" transform="translate(179.95 287.60) rotate(-90) scale(1 0.82)">5:1</text>
<text class="tk" x="0" y="0" font-size="5.2" text-anchor="end" transform="translate(185.15 287.60) rotate(-90) scale(1 0.82)">2.5:1</text>
<text class="tk" x="0" y="0" font-size="5.2" text-anchor="end" transform="translate(190.35 287.60) rotate(-90) scale(1 0.82)">1:1</text>
<text class="tk" x="0" y="0" font-size="5.2" text-anchor="end" transform="translate(195.55 287.60) rotate(-90) scale(1 0.82)">0.5:1</text>
<polyline points="173.60,204.40 179.40,213.00 184.40,222.00 189.00,222.00 194.40,215.60" fill="none" stroke="#111" stroke-width="0.75"/>
<circle cx="173.60" cy="204.40" r="1.4" fill="#000"/>
<circle cx="179.40" cy="213.00" r="1.4" fill="#000"/>
<circle cx="184.40" cy="222.00" r="1.4" fill="#000"/>
<circle cx="189.00" cy="222.00" r="1.4" fill="#000"/>
<circle cx="194.40" cy="215.60" r="1.4" fill="#000"/>
<line x1="209.60" y1="285.50" x2="235.00" y2="285.50" stroke="#808080" stroke-width="1.0"/>
<text class="tk" x="0" y="0" font-size="5.2" text-anchor="end" transform="translate(211.95 287.60) rotate(-90) scale(1 0.82)">10:1</text>
<text class="tk" x="0" y="0" font-size="5.2" text-anchor="end" transform="translate(218.15 287.60) rotate(-90) scale(1 0.82)">5:1</text>
<text class="tk" x="0" y="0" font-size="5.2" text-anchor="end" transform="translate(223.95 287.60) rotate(-90) scale(1 0.82)">2.5:1</text>
<text class="tk" x="0" y="0" font-size="5.2" text-anchor="end" transform="translate(229.75 287.60) rotate(-90) scale(1 0.82)">1.25:1</text>
<text class="tk" x="0" y="0" font-size="5.2" text-anchor="end" transform="translate(235.75 287.60) rotate(-90) scale(1 0.82)">0.6:1</text>
<polyline points="210.40,195.60 216.60,206.40 222.40,211.00 228.20,209.40 234.20,252.60" fill="none" stroke="#111" stroke-width="0.75"/>
<circle cx="210.40" cy="195.60" r="1.4" fill="#000"/>
<circle cx="216.60" cy="206.40" r="1.4" fill="#000"/>
<circle cx="222.40" cy="211.00" r="1.4" fill="#000"/>
<circle cx="228.20" cy="209.40" r="1.4" fill="#000"/>
<circle cx="234.20" cy="252.60" r="1.4" fill="#000"/>
<line x1="241.00" y1="285.50" x2="266.00" y2="285.50" stroke="#808080" stroke-width="1.0"/>
<text class="tk" x="0" y="0" font-size="5.2" text-anchor="end" transform="translate(243.15 287.60) rotate(-90) scale(1 0.82)">10:1</text>
<text class="tk" x="0" y="0" font-size="5.2" text-anchor="end" transform="translate(249.15 287.60) rotate(-90) scale(1 0.82)">5:1</text>
<text class="tk" x="0" y="0" font-size="5.2" text-anchor="end" transform="translate(254.95 287.60) rotate(-90) scale(1 0.82)">2.5:1</text>
<text class="tk" x="0" y="0" font-size="5.2" text-anchor="end" transform="translate(260.75 287.60) rotate(-90) scale(1 0.82)">1.25:1</text>
<text class="tk" x="0" y="0" font-size="5.2" text-anchor="end" transform="translate(266.95 287.60) rotate(-90) scale(1 0.82)">0.6:1</text>
<polyline points="241.60,200.00 247.60,199.80 253.40,198.10 259.20,198.10 265.40,241.60" fill="none" stroke="#111" stroke-width="0.75"/>
<circle cx="241.60" cy="200.00" r="1.4" fill="#000"/>
<circle cx="247.60" cy="199.80" r="1.4" fill="#000"/>
<circle cx="253.40" cy="198.10" r="1.4" fill="#000"/>
<circle cx="259.20" cy="198.10" r="1.4" fill="#000"/>
<circle cx="265.40" cy="241.60" r="1.4" fill="#000"/>
<line x1="279.60" y1="285.50" x2="300.00" y2="285.50" stroke="#808080" stroke-width="1.0"/>
<text class="tk" x="0" y="0" font-size="5.2" text-anchor="end" transform="translate(281.55 287.60) rotate(-90) scale(1 0.82)">5:1</text>
<text class="tk" x="0" y="0" font-size="5.2" text-anchor="end" transform="translate(287.95 287.60) rotate(-90) scale(1 0.82)">2.5:1</text>
<text class="tk" x="0" y="0" font-size="5.2" text-anchor="end" transform="translate(294.55 287.60) rotate(-90) scale(1 0.82)">1.25:1</text>
<text class="tk" x="0" y="0" font-size="5.2" text-anchor="end" transform="translate(301.55 287.60) rotate(-90) scale(1 0.82)">0.6:1</text>
<polyline points="280.00,196.00 286.40,194.90 293.00,192.60 300.00,226.90" fill="none" stroke="#111" stroke-width="0.75"/>
<circle cx="280.00" cy="196.00" r="1.4" fill="#000"/>
<circle cx="286.40" cy="194.90" r="1.4" fill="#000"/>
<circle cx="293.00" cy="192.60" r="1.4" fill="#000"/>
<circle cx="300.00" cy="226.90" r="1.4" fill="#000"/>
<line x1="308.00" y1="285.50" x2="328.60" y2="285.50" stroke="#808080" stroke-width="1.0"/>
<text class="tk" x="0" y="0" font-size="5.2" text-anchor="end" transform="translate(309.95 287.60) rotate(-90) scale(1 0.82)">5:1</text>
<text class="tk" x="0" y="0" font-size="5.2" text-anchor="end" transform="translate(316.15 287.60) rotate(-90) scale(1 0.82)">2.5:1</text>
<text class="tk" x="0" y="0" font-size="5.2" text-anchor="end" transform="translate(322.35 287.60) rotate(-90) scale(1 0.82)">1.25:1</text>
<text class="tk" x="0" y="0" font-size="5.2" text-anchor="end" transform="translate(328.55 287.60) rotate(-90) scale(1 0.82)">0.6:1</text>
<polyline points="308.60,196.80 315.20,191.60 322.00,191.00 328.60,226.70" fill="none" stroke="#111" stroke-width="0.75"/>
<circle cx="308.60" cy="196.80" r="1.4" fill="#000"/>
<circle cx="315.20" cy="191.60" r="1.4" fill="#000"/>
<circle cx="322.00" cy="191.00" r="1.4" fill="#000"/>
<circle cx="328.60" cy="226.70" r="1.4" fill="#000"/>
<line x1="342.00" y1="285.50" x2="366.00" y2="285.50" stroke="#808080" stroke-width="1.0"/>
<text class="tk" x="0" y="0" font-size="5.2" text-anchor="end" transform="translate(344.15 287.60) rotate(-90) scale(1 0.82)">10:1</text>
<text class="tk" x="0" y="0" font-size="5.2" text-anchor="end" transform="translate(351.95 287.60) rotate(-90) scale(1 0.82)">5:1</text>
<text class="tk" x="0" y="0" font-size="5.2" text-anchor="end" transform="translate(359.55 287.60) rotate(-90) scale(1 0.82)">2.5:1</text>
<text class="tk" x="0" y="0" font-size="5.2" text-anchor="end" transform="translate(367.15 287.60) rotate(-90) scale(1 0.82)">1.25:1</text>
<polyline points="342.60,282.00 350.40,282.00 358.00,282.00 365.60,282.00" fill="none" stroke="#111" stroke-width="0.75"/>
<circle cx="342.60" cy="282.00" r="1.4" fill="#000"/>
<circle cx="350.40" cy="282.00" r="1.4" fill="#000"/>
<circle cx="358.00" cy="282.00" r="1.4" fill="#000"/>
<circle cx="365.60" cy="282.00" r="1.4" fill="#000"/>
<line x1="375.60" y1="285.50" x2="399.00" y2="285.50" stroke="#808080" stroke-width="1.0"/>
<text class="tk" x="0" y="0" font-size="5.2" text-anchor="end" transform="translate(377.95 287.60) rotate(-90) scale(1 0.82)">10:1</text>
<text class="tk" x="0" y="0" font-size="5.2" text-anchor="end" transform="translate(385.15 287.60) rotate(-90) scale(1 0.82)">5:1</text>
<text class="tk" x="0" y="0" font-size="5.2" text-anchor="end" transform="translate(392.55 287.60) rotate(-90) scale(1 0.82)">2.5:1</text>
<text class="tk" x="0" y="0" font-size="5.2" text-anchor="end" transform="translate(399.55 287.60) rotate(-90) scale(1 0.82)">1.5:1</text>
<polyline points="376.40,282.00 383.60,281.00 391.00,284.00 398.00,283.40" fill="none" stroke="#111" stroke-width="0.75"/>
<circle cx="376.40" cy="282.00" r="1.4" fill="#000"/>
<circle cx="383.60" cy="281.00" r="1.4" fill="#000"/>
<circle cx="391.00" cy="284.00" r="1.4" fill="#000"/>
<circle cx="398.00" cy="283.40" r="1.4" fill="#000"/>
<line x1="411.20" y1="285.50" x2="432.00" y2="285.50" stroke="#808080" stroke-width="1.0"/>
<text class="tk" x="0" y="0" font-size="5.2" text-anchor="end" transform="translate(413.45 294.50) rotate(-90) scale(1 0.82)">5:1</text>
<text class="tk" x="0" y="0" font-size="5.2" text-anchor="end" transform="translate(419.75 294.50) rotate(-90) scale(1 0.82)">2.5:1</text>
<text class="tk" x="0" y="0" font-size="5.2" text-anchor="end" transform="translate(426.35 294.50) rotate(-90) scale(1 0.82)">1.25:1</text>
<text class="tk" x="0" y="0" font-size="5.2" text-anchor="end" transform="translate(432.55 294.50) rotate(-90) scale(1 0.82)">0.6:1</text>
<polyline points="411.90,284.40 418.20,291.20 424.80,286.80 431.00,286.40" fill="none" stroke="#111" stroke-width="0.75"/>
<circle cx="411.90" cy="284.40" r="1.4" fill="#000"/>
<circle cx="418.20" cy="291.20" r="1.4" fill="#000"/>
<circle cx="424.80" cy="286.80" r="1.4" fill="#000"/>
<circle cx="431.00" cy="286.40" r="1.4" fill="#000"/>
<line x1="451.00" y1="286.00" x2="471.50" y2="286.00" stroke="#808080" stroke-width="1.0"/>
<text class="tk" x="0" y="0" font-size="5.2" text-anchor="end" transform="translate(452.95 288.20) rotate(-90) scale(1 0.82)">5:1</text>
<text class="tk" x="0" y="0" font-size="5.2" text-anchor="end" transform="translate(459.15 288.20) rotate(-90) scale(1 0.82)">2.5:1</text>
<text class="tk" x="0" y="0" font-size="5.2" text-anchor="end" transform="translate(465.85 288.20) rotate(-90) scale(1 0.82)">1.25:1</text>
<text class="tk" x="0" y="0" font-size="5.2" text-anchor="end" transform="translate(472.35 288.20) rotate(-90) scale(1 0.82)">0.6:1</text>
<polyline points="451.40,284.70 457.60,285.70 464.30,285.40 470.80,284.00" fill="none" stroke="#111" stroke-width="0.75"/>
<circle cx="451.40" cy="284.70" r="1.4" fill="#000"/>
<circle cx="457.60" cy="285.70" r="1.4" fill="#000"/>
<circle cx="464.30" cy="285.40" r="1.4" fill="#000"/>
<circle cx="470.80" cy="284.00" r="1.4" fill="#000"/>
<line x1="487.80" y1="285.50" x2="513.20" y2="285.50" stroke="#808080" stroke-width="1.0"/>
<text class="tk" x="0" y="0" font-size="5.2" text-anchor="end" transform="translate(490.55 287.60) rotate(-90) scale(1 0.82)">10:1</text>
<text class="tk" x="0" y="0" font-size="5.2" text-anchor="end" transform="translate(496.45 287.60) rotate(-90) scale(1 0.82)">5:1</text>
<text class="tk" x="0" y="0" font-size="5.2" text-anchor="end" transform="translate(502.05 287.60) rotate(-90) scale(1 0.82)">2.5:1</text>
<text class="tk" x="0" y="0" font-size="5.2" text-anchor="end" transform="translate(507.95 287.60) rotate(-90) scale(1 0.82)">1.25:1</text>
<text class="tk" x="0" y="0" font-size="5.2" text-anchor="end" transform="translate(513.95 287.60) rotate(-90) scale(1 0.82)">0.6:1</text>
<polyline points="489.00,282.40 494.90,283.00 500.50,283.90 506.40,283.90 512.40,282.70" fill="none" stroke="#111" stroke-width="0.75"/>
<circle cx="489.00" cy="282.40" r="1.4" fill="#000"/>
<circle cx="494.90" cy="283.00" r="1.4" fill="#000"/>
<circle cx="500.50" cy="283.90" r="1.4" fill="#000"/>
<circle cx="506.40" cy="283.90" r="1.4" fill="#000"/>
<circle cx="512.40" cy="282.70" r="1.4" fill="#000"/>
<text x="30.40" y="308.60" font-size="5.5" text-anchor="start" font-weight="bold" font-style="normal" >D2</text>
<circle cx="43.20" cy="306.70" r="1.1" fill="#fff" stroke="#222" stroke-width="0.55"/>
<text x="30.40" y="314.00" font-size="5.5" text-anchor="start" font-weight="bold" font-style="normal" >D3</text>
<path d="M43.2,310.60 L44.7,312.10 L43.2,313.60 L41.7,312.10 Z" fill="#000"/>
<text x="30.40" y="319.40" font-size="5.5" text-anchor="start" font-weight="bold" font-style="normal" >D5</text>
<path d="M42.0,316.30 L44.400000000000006,318.70 M44.400000000000006,316.30 L42.0,318.70" stroke="#222" stroke-width="0.6"/>
<text x="30.40" y="324.80" font-size="5.5" text-anchor="start" font-weight="bold" font-style="normal" >D4</text>
<path d="M43.2,321.60 L44.6,324.00 L41.800000000000004,324.00 Z" fill="#fff" stroke="#222" stroke-width="0.55"/>
<text x="63.00" y="313.90" font-size="5.2" text-anchor="middle" font-weight="bold" font-style="normal" >D2</text>
<text x="92.00" y="313.90" font-size="5.2" text-anchor="middle" font-weight="bold" font-style="normal" >D1</text>
<text x="128.50" y="313.10" font-size="5.2" text-anchor="middle" font-weight="bold" font-style="normal" >D2</text>
<text x="128.50" y="318.80" font-size="5.2" text-anchor="middle" font-weight="bold" font-style="normal" >1 hour</text>
<text x="157.00" y="313.90" font-size="5.2" text-anchor="middle" font-weight="bold" font-style="normal" >D2</text>
<text x="184.00" y="313.90" font-size="5.2" text-anchor="middle" font-weight="bold" font-style="normal" >D2</text>
<text x="222.60" y="313.90" font-size="5.2" text-anchor="middle" font-weight="bold" font-style="normal" >D1*</text>
<text x="222.60" y="319.40" font-size="5.2" text-anchor="middle" font-weight="bold" font-style="normal" >1.5 hours</text>
<text x="254.00" y="313.90" font-size="5.2" text-anchor="middle" font-weight="bold" font-style="normal" >D1*</text>
<text x="254.00" y="319.40" font-size="5.2" text-anchor="middle" font-weight="bold" font-style="normal" >1.5 hours</text>
<text x="290.00" y="313.90" font-size="5.2" text-anchor="middle" font-weight="bold" font-style="normal" >D1*</text>
<text x="320.00" y="313.90" font-size="5.2" text-anchor="middle" font-weight="bold" font-style="normal" >D1*</text>
<text x="354.50" y="313.90" font-size="5.2" text-anchor="middle" font-weight="bold" font-style="normal" >D1</text>
<text x="387.50" y="313.90" font-size="5.2" text-anchor="middle" font-weight="bold" font-style="normal" >D1</text>
<text x="422.50" y="313.90" font-size="5.2" text-anchor="middle" font-weight="bold" font-style="normal" >D1*</text>
<text x="461.50" y="313.90" font-size="5.2" text-anchor="middle" font-weight="bold" font-style="normal" >D1*</text>
<text x="502.00" y="313.90" font-size="5.2" text-anchor="middle" font-weight="bold" font-style="normal" >D1*</text>
<text x="501.00" y="319.20" font-size="5.2" text-anchor="middle" font-weight="bold" font-style="normal" >1.5 hours</text>
</g>
</svg></div>
</body></html>
